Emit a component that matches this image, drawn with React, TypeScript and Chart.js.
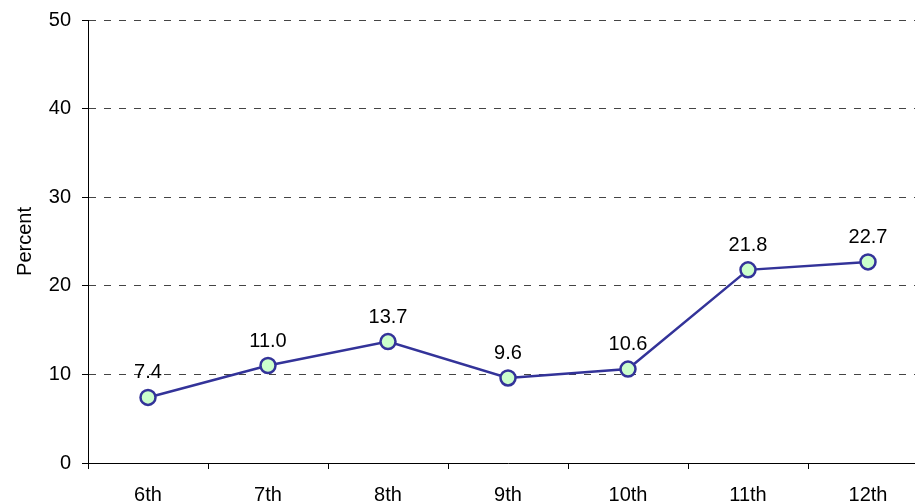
import React, { useEffect, useRef } from "react";
import { Chart, registerables } from "chart.js";

Chart.register(...registerables);

const grades = ["6th", "7th", "8th", "9th", "10th", "11th", "12th"];
const percents = [7.4, 11.0, 13.7, 9.6, 10.6, 21.8, 22.7];
const yTicks = [0, 10, 20, 30, 40, 50];

const FONT = "'Liberation Sans', Arial, sans-serif";

const labelPlugin = {
  id: "pointLabels",
  afterDatasetsDraw(chart: any) {
    const ctx = chart.ctx;
    const meta = chart.getDatasetMeta(0);
    ctx.save();
    ctx.font = `20px ${FONT}`;
    ctx.fillStyle = "#000";
    ctx.textAlign = "center";
    ctx.textBaseline = "alphabetic";
    meta.data.forEach((pt: any, i: number) => {
      ctx.fillText(percents[i].toFixed(1), pt.x, pt.y - 19);
    });
    ctx.restore();
  },
};

export default function App() {
  const ref = useRef<HTMLCanvasElement | null>(null);
  useEffect(() => {
    if (!ref.current) return;
    const chart = new Chart(ref.current, {
      type: "line",
      data: {
        labels: grades,
        datasets: [
          {
            data: percents,
            borderColor: "#333399",
            borderWidth: 2.5,
            backgroundColor: "#ccffcc",
            pointBackgroundColor: "#ccffcc",
            pointBorderColor: "#333399",
            pointBorderWidth: 2.5,
            pointRadius: 7.5,
            tension: 0,
          },
        ],
      },
      options: {
        responsive: false,
        animation: false,
        layout: { padding: { top: 20, left: 0, right: 0, bottom: 0 } },
        plugins: { legend: { display: false }, tooltip: { enabled: false } },
        scales: {
          x: {
            type: "category",
            offset: true,
            afterFit: (s: any) => {
              s.height = 50;
              s.paddingLeft = 0;
              s.paddingRight = 0;
            },
            border: { display: true, color: "#000", width: 1 },
            grid: {
              offset: true,
              drawOnChartArea: false,
              drawTicks: true,
              tickLength: 6,
              tickColor: "#000",
            },
            ticks: {
              color: "#000",
              font: { family: FONT, size: 20 },
              padding: 14,
              maxRotation: 0,
            },
          },
          y: {
            min: 0,
            max: 50,
            afterFit: (s: any) => {
              s.width = 88;
              s.paddingTop = 0;
              s.paddingBottom = 0;
            },
            afterBuildTicks: (s: any) => {
              s.ticks = yTicks.map((v) => ({ value: v }));
            },
            border: { display: true, color: "#000", width: 1, dash: [7, 8] },
            grid: {
              color: "#444",
              lineWidth: 1,
              drawTicks: true,
              tickLength: 6,
              tickColor: "#000",
              tickBorderDash: [],
            } as any,
            ticks: {
              color: "#000",
              font: { family: FONT, size: 20 },
              padding: 11,
            },
            title: {
              display: true,
              text: "Percent",
              color: "#000",
              font: { family: FONT, size: 20 },
              padding: { top: 13, bottom: 0 },
            },
          },
        },
      },
      plugins: [labelPlugin],
    });
    return () => chart.destroy();
  }, []);
  return (
    <div
      style={{
        position: "fixed",
        left: 0,
        top: 0,
        width: 915,
        height: 501,
        overflow: "hidden",
        background: "#fff",
      }}
    >
      <canvas ref={ref} width={938} height={513} style={{ display: "block" }} />
    </div>
  );
}
